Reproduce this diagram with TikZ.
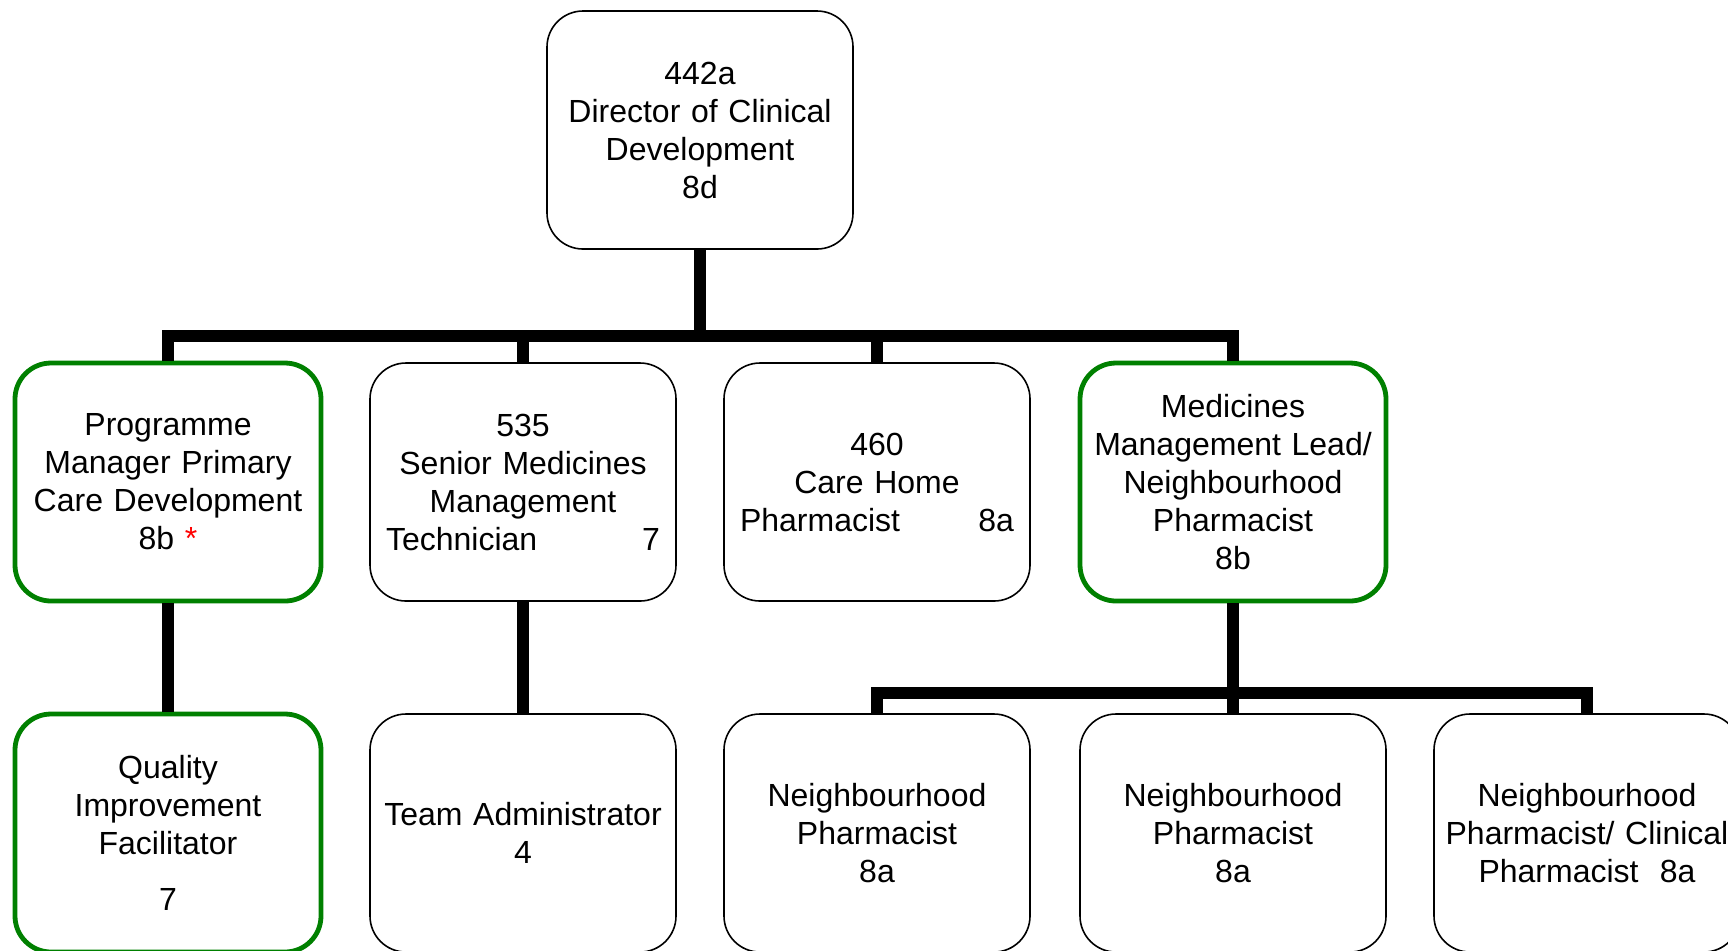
\documentclass[tikz,border=0pt]{standalone}
\usepackage{fontspec}
\setmainfont{Liberation Sans}

\definecolor{leadgreen}{RGB}{0,128,0}
\tikzstyle{post} = [rectangle, rounded corners=18pt, minimum width=153pt, minimum height=119pt, text width=148pt, inner sep=2pt, align=center, draw=black, line width=0.8pt, font=\fontsize{16}{19}\selectfont]
\tikzstyle{keypost} = [post, draw=leadgreen, line width=2.4pt]
\tikzstyle{link} = [line width=6pt]

\begin{document}
\begin{tikzpicture}[x=0.5pt, y=-0.5pt]
    \useasboundingbox (0,0) rectangle (1728,950);

    % Director
    \node[post] (director) at (700,130) {442a\\Director of Clinical\\Development\\8d};

    % Second row
    \node[keypost] (progmgr) at (168,482) {Programme\\Manager Primary\\Care Development\\8b {\color{red}*}};
    \node[post] (senior) at (523,482) {535\\Senior Medicines\\Management\\\makebox[137pt]{Technician\hfill 7}};
    \node[post] (carehome) at (877,482) {460\\Care Home\\\makebox[137pt]{Pharmacist\hfill 8a}};
    \node[keypost] (medlead) at (1233,482) {Medicines\\Management Lead/\\Neighbourhood\\Pharmacist\\8b};

    % Third row
    \node[keypost] (quality) at (168,833) {Quality\\Improvement\\Facilitator\\[9pt]7};
    \node[post] (teamadmin) at (523,833) {Team Administrator\\4};
    \node[post] (npharm1) at (877,833) {Neighbourhood\\Pharmacist\\8a};
    \node[post] (npharm2) at (1233,833) {Neighbourhood\\Pharmacist\\8a};
    \node[post] (npharm3) at (1587,833) {Neighbourhood\\Pharmacist/ Clinical\\Pharmacist\ \ 8a};

    % Connectors
    \coordinate (bar1) at (700,336);
    \coordinate (bar2) at (1233,693);
    \draw[link] (director.south) -- (bar1);
    \draw[link] (progmgr.north) |- (bar1) -| (medlead.north);
    \draw[link] (senior.north) -- (senior.north |- bar1);
    \draw[link] (carehome.north) -- (carehome.north |- bar1);
    \draw[link] (progmgr.south) -- (quality.north);
    \draw[link] (senior.south) -- (teamadmin.north);
    \draw[link] (medlead.south) -- (npharm2.north);
    \draw[link] (npharm1.north) |- (bar2) -| (npharm3.north);

\end{tikzpicture}
\end{document}
